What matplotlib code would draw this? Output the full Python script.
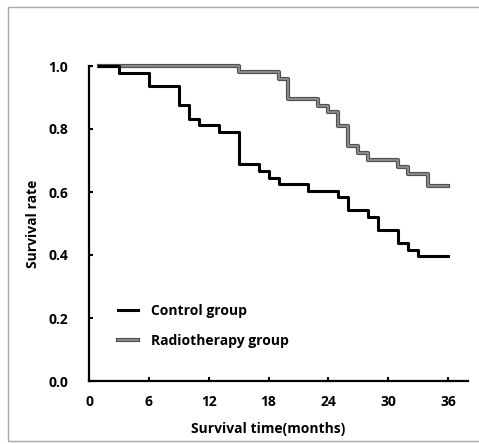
import matplotlib.pyplot as plt
import matplotlib.patheffects as pe
from matplotlib.patches import Rectangle

plt.rcParams['font.family'] = ['Open Sans', 'DejaVu Sans']
plt.rcParams['font.weight'] = 'bold'

# step times (months) and survival rates
control_t = [1, 3, 6, 9, 10, 11, 13, 15, 17, 18, 19, 22, 25, 26, 28, 29, 31, 32, 33, 36]
control_s = [1.0, 0.979, 0.938, 0.875, 0.833, 0.813, 0.792, 0.688, 0.667, 0.646,
             0.625, 0.604, 0.583, 0.542, 0.521, 0.479, 0.438, 0.417, 0.396, 0.396]
radio_t = [1, 15, 19, 20, 23, 24, 25, 26, 27, 28, 31, 32, 34, 36]
radio_s = [1.0, 0.981, 0.960, 0.896, 0.873, 0.853, 0.811, 0.745, 0.723, 0.702,
           0.680, 0.658, 0.618, 0.618]

xticks = [0, 6, 12, 18, 24, 30, 36]
yticks = [0.0, 0.2, 0.4, 0.6, 0.8, 1.0]

W, H = 479, 444
fig = plt.figure(figsize=(W / 100, H / 100), dpi=100)
ax = fig.add_axes([89 / W, 63 / H, 379 / W, 315 / H])

ax.step(control_t, control_s, where='post', color='black', lw=2.2,
        label='Control group', clip_on=False, zorder=3)
ax.step(radio_t, radio_s, where='post', color='#9a9a9a', lw=1.1,
        label='Radiotherapy group', clip_on=False, zorder=2,
        path_effects=[pe.Stroke(linewidth=3, foreground='#505050'), pe.Normal()])

ax.set_xlim(0, 38)
ax.set_ylim(0, 1.0)
ax.set_xticks(xticks)
ax.set_yticks(yticks)
ax.set_yticklabels(['%.1f' % v for v in yticks])
ax.tick_params(direction='in', length=3, width=1.5, labelsize=10)
ax.tick_params(axis='x', pad=10)
ax.tick_params(axis='y', pad=15)
for s in ['top', 'right']:
    ax.spines[s].set_visible(False)
for s in ['left', 'bottom']:
    ax.spines[s].set_linewidth(1.6)

ax.set_xlabel('Survival time(months)', fontsize=10, fontweight='bold')
ax.xaxis.set_label_coords(18 / 38, -41 / 315)
ax.set_ylabel('Survival rate', fontsize=10, fontweight='bold')
ax.yaxis.set_label_coords(-49 / 379, 0.5)

ax.legend(loc='upper left', bbox_to_anchor=(105 / W, 1 - 291 / H),
          bbox_transform=fig.transFigure, frameon=False, fontsize=10,
          handlelength=1.5, handletextpad=0.9, labelspacing=1.2)

fig.patches.append(Rectangle((8 / W, 3 / H), 1, 1 - 10 / H, transform=fig.transFigure,
                             fill=False, edgecolor='#a8a8a8', lw=1))

fig.savefig('out.png', dpi=100)
